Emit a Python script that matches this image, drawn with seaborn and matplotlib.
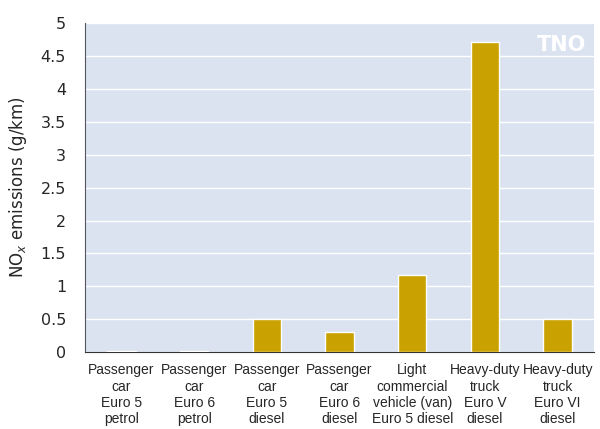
import numpy as np
import pandas as pd
import matplotlib
matplotlib.use("Agg")
import matplotlib.pyplot as plt
import seaborn as sns

categories = ["Passenger\ncar\nEuro 5\npetrol",
              "Passenger\ncar\nEuro 6\npetrol",
              "Passenger\ncar\nEuro 5\ndiesel",
              "Passenger\ncar\nEuro 6\ndiesel",
              "Light\ncommercial\nvehicle (van)\nEuro 5 diesel",
              "Heavy-duty\ntruck\nEuro V\ndiesel",
              "Heavy-duty\ntruck\nEuro VI\ndiesel"]
nox = [0.02, 0.02, 0.50, 0.30, 1.17, 4.72, 0.51]
yticks = [0, 0.5, 1, 1.5, 2, 2.5, 3, 3.5, 4, 4.5, 5]
yticklabels = ["0", "0.5", "1", "1.5", "2", "2.5", "3", "3.5", "4", "4.5", "5"]

sns.set_style("white")
plt.rcParams['font.family'] = ['DejaVu Sans']

df = pd.DataFrame({"cat": categories, "nox": nox})

fig = plt.figure(figsize=(6, 4.29), dpi=100)
ax = fig.add_axes([0.142, 0.179, 0.848, 0.767])
ax.set_facecolor("#dbe3f1")
sns.barplot(data=df, x="cat", y="nox", color="#c9a100", width=0.39,
            saturation=1, ax=ax, zorder=3)
ax.set_ylim(0, 5)
ax.set_yticks(yticks)
ax.set_yticklabels(yticklabels, fontsize=11.5)
ax.yaxis.grid(True, color="white", lw=1, zorder=0)
ax.set_axisbelow(True)
ax.set_xlabel("")
ax.set_ylabel("NO$_x$ emissions (g/km)", fontsize=12, labelpad=8)
ax.tick_params(axis="y", length=5.8, color="#333333", width=0.8, pad=8)
ax.tick_params(axis="x", length=0, pad=8)
for lab in ax.get_xticklabels():
    lab.set_family("Liberation Sans")
    lab.set_fontsize(10)
    lab.set_linespacing(1.2)
for s in ["top", "right"]:
    ax.spines[s].set_visible(False)
ax.spines["left"].set_color("#555566")
ax.spines["bottom"].set_color("#333333")
ax.text(0.985, 0.965, "TNO", transform=ax.transAxes, ha="right", va="top",
        color="white", fontsize=15, fontweight="bold")

fig.savefig("out.png", dpi=100)
